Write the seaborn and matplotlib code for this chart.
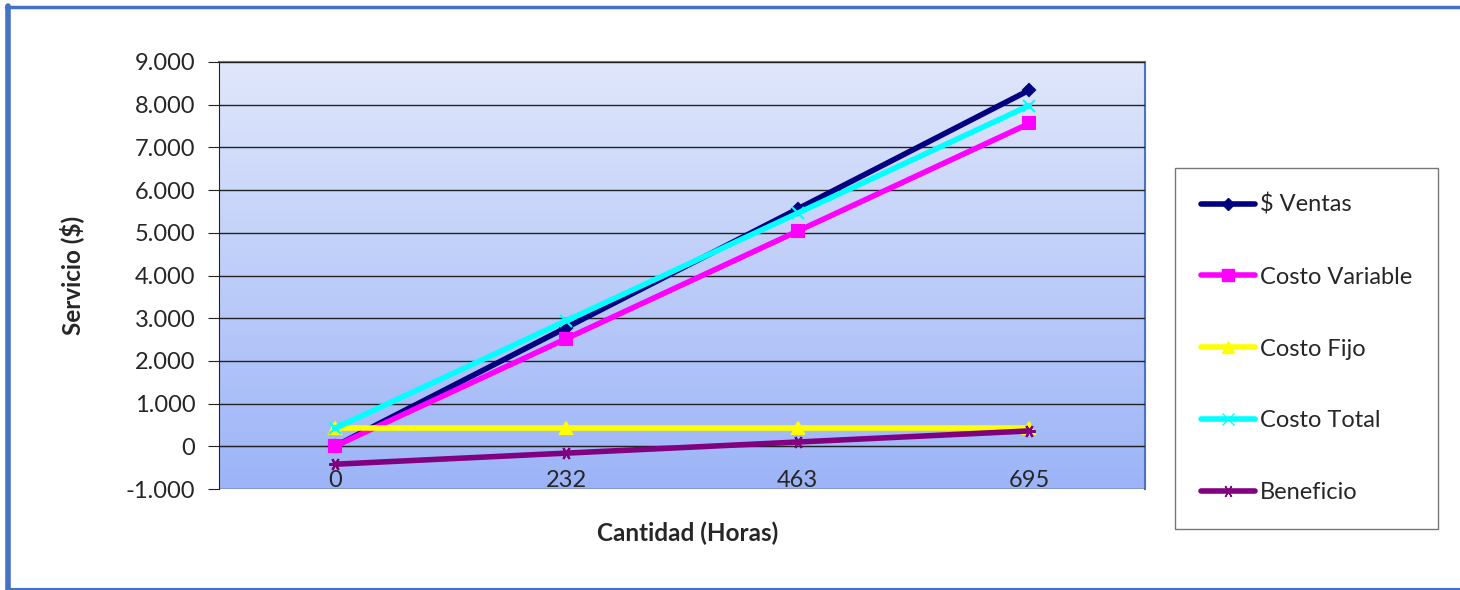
import numpy as np
import pandas as pd
import matplotlib
matplotlib.use('Agg')
import matplotlib.pyplot as plt
import matplotlib.ticker as mticker
from matplotlib.lines import Line2D
import seaborn as sns

cantidad = ['0', '232', '463', '695']
ventas = [0, 2780, 5560, 8340]
costo_variable = [0, 2520, 5040, 7560]
costo_fijo = [420, 420, 420, 420]
costo_total = [420, 2940, 5460, 7980]
beneficio = [-420, -160, 100, 360]

series = ['$ Ventas', 'Costo Variable', 'Costo Fijo', 'Costo Total', 'Beneficio']
valores = [ventas, costo_variable, costo_fijo, costo_total, beneficio]

df = pd.DataFrame({'cantidad': cantidad * len(series),
                   'serie': np.repeat(series, len(cantidad)),
                   'valor': np.concatenate(valores)})
df['pos'] = df['cantidad'].map({c: i for i, c in enumerate(cantidad)})

sns.set_style('white')
plt.rcParams['font.family'] = ['Lato', 'DejaVu Sans']

colores = {'$ Ventas': '#000080', 'Costo Variable': '#ff00ff', 'Costo Fijo': '#ffff00',
           'Costo Total': '#00ffff', 'Beneficio': '#800080'}
marcas = {'$ Ventas': 'D', 'Costo Variable': 's', 'Costo Fijo': '^',
          'Costo Total': 'x', 'Beneficio': (6, 2, 90)}
tam = {'$ Ventas': 6, 'Costo Variable': 9, 'Costo Fijo': 8, 'Costo Total': 8, 'Beneficio': 9}

fig = plt.figure(figsize=(14.6, 5.9), dpi=100)
ax = fig.add_axes([219 / 1460, 1 - 489 / 590, 926 / 1460, 427 / 590])

# degradado de fondo
grad = np.linspace(0, 1, 256).reshape(-1, 1)
cmap = matplotlib.colors.LinearSegmentedColormap.from_list('bg', ['#e0e7fb', '#9cb4f7'])
ax.imshow(grad, aspect='auto', cmap=cmap, extent=[-0.5, 3.5, -1000, 9000], zorder=0)

for s in series:
    sub = df[df['serie'] == s]
    sns.lineplot(data=sub, x='pos', y='valor', ax=ax, color=colores[s], lw=4,
                 marker=marcas[s], markersize=tam[s], markeredgecolor=colores[s],
                 markeredgewidth=1.5, zorder=3, legend=False)

ax.set_xlim(-0.5, 3.5)
ax.set_ylim(-1000, 9000)
ax.set_yticks(range(-1000, 9001, 1000))
ax.yaxis.set_major_formatter(mticker.FuncFormatter(lambda v, p: f'{int(v):,}'.replace(',', '.')))
ax.grid(axis='y', color='#222222', lw=1, zorder=1)
ax.set_axisbelow(False)

ax.set_xticks(range(len(cantidad)))
ax.set_xticklabels(cantidad)
ax.set_xticks([0.5, 1.5, 2.5, 3.5], minor=True)
ax.spines['bottom'].set_position(('data', 0))
ax.spines['bottom'].set_color('#222222')
ax.spines['bottom'].set_zorder(2)
ax.tick_params(axis='x', which='major', length=0, pad=17, labelsize=17)
ax.tick_params(axis='x', which='minor', length=7, direction='in', color='#222222')
ax.tick_params(axis='y', length=8, direction='out', left=True, labelsize=17, color='#222222', pad=9)
ax.spines['left'].set_color('#222222')
for sp in ['top', 'right']:
    ax.spines[sp].set_color('#4a72c0')
    ax.spines[sp].set_linewidth(1.5)
ax.set_xlabel('')
ax.set_ylabel('')

fig.text(72 / 1460, 1 - 275 / 590, 'Servicio ($)', rotation=90, ha='center', va='center',
         fontsize=17.5, fontweight='bold')
fig.text(688 / 1460, 1 - 533 / 590, 'Cantidad (Horas)', ha='center', va='center',
         fontsize=17.5, fontweight='bold')

handles = [Line2D([0], [0], color=colores[s], lw=4, marker=marcas[s], markersize=tam[s],
                  markeredgecolor=colores[s]) for s in series]
leg = fig.legend(handles, series, loc='upper left', bbox_to_anchor=(1175 / 1460, 1 - 168 / 590),
                 frameon=True, fontsize=17, labelspacing=2.15, handlelength=2.3,
                 handletextpad=0.2, borderpad=1.1, borderaxespad=0, fancybox=False)
leg.get_frame().set_edgecolor('#555555')
leg.get_frame().set_linewidth(1)

# marco exterior
fig.add_artist(Line2D([8 / 1460, 8 / 1460], [0, 1 - 6 / 590], color='#4472c4', lw=4))
fig.add_artist(Line2D([6 / 1460, 1], [1 - 7 / 590, 1 - 7 / 590], color='#4472c4', lw=2.5))
fig.add_artist(Line2D([8 / 1460, 1], [1.5 / 590, 1.5 / 590], color='#4472c4', lw=1.5))

fig.savefig('out.png', dpi=100)
